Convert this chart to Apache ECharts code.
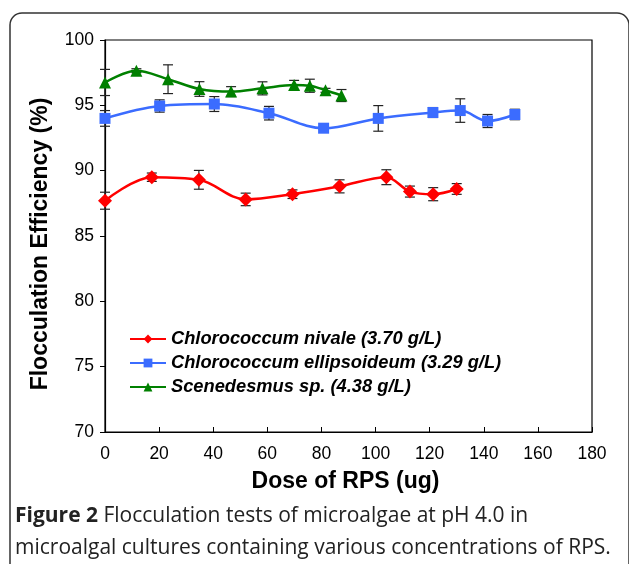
<!DOCTYPE html>
<html><head><meta charset="utf-8">
<script src="https://cdn.jsdelivr.net/npm/echarts@6/dist/echarts.min.js"></script>
<style>html,body{margin:0;padding:0;background:#fff}#c{width:629px;height:564px}</style>
</head><body><div id="c"></div>
<script>
const xTicks = [0, 20, 40, 60, 80, 100, 120, 140, 160, 180];
const yTicks = [70, 75, 80, 85, 90, 95, 100];

const redName = 'Chlorococcum nivale (3.70 g/L)';
const redDose = [0, 17.3, 34.7, 52, 69.3, 86.7, 104, 112.7, 121.3, 130];
const redEff  = [87.7, 89.5, 89.3, 87.8, 88.2, 88.8, 89.5, 88.4, 88.2, 88.6];
const redErr  = [0.65, 0.32, 0.72, 0.48, 0.33, 0.5, 0.57, 0.42, 0.5, 0.41];

const blueName = 'Chlorococcum ellipsoideum (3.29 g/L)';
const blueDose = [0, 20.2, 40.4, 60.6, 80.8, 101, 121.2, 131.3, 141.4, 151.5];
const blueEff  = [94.0, 94.95, 95.1, 94.4, 93.25, 94.0, 94.45, 94.6, 93.8, 94.3];
const blueErr  = [0.6, 0.47, 0.57, 0.52, 0.1, 0.98, 0.38, 0.9, 0.5, 0.4];

const greenName = 'Scenedesmus sp. (4.38 g/L)';
const greenDose = [0, 11.6, 23.3, 34.9, 46.6, 58.2, 69.9, 75.7, 81.5, 87.4];
const greenEff  = [96.75, 97.65, 97.0, 96.25, 96.05, 96.3, 96.55, 96.5, 96.15, 95.75];
const greenErr  = [1.0, 0.15, 1.1, 0.56, 0.38, 0.5, 0.36, 0.5, 0.15, 0.46];

const captionBold = 'Figure 2';
const captionLine1 = ' Flocculation tests of microalgae at pH 4.0 in';
const captionLine2 = 'microalgal cultures containing various concentrations of RPS.';

function pts(xs, ys) { return xs.map((x, i) => [x, ys[i]]); }
function errPts(xs, ys, es) { return xs.map((x, i) => [x, ys[i] - es[i], ys[i] + es[i]]); }

function errSeries(xs, ys, es) {
  return {
    type: 'custom',
    data: errPts(xs, ys, es),
    z: 1,
    silent: true,
    renderItem: function (params, api) {
      const x = api.value(0);
      const lo = api.coord([x, api.value(1)]);
      const hi = api.coord([x, api.value(2)]);
      const w = 5;
      const st = { stroke: '#222', lineWidth: 1.2 };
      return {
        type: 'group',
        children: [
          { type: 'line', shape: { x1: lo[0], y1: lo[1], x2: hi[0], y2: hi[1] }, style: st },
          { type: 'line', shape: { x1: lo[0] - w, y1: lo[1], x2: lo[0] + w, y2: lo[1] }, style: st },
          { type: 'line', shape: { x1: hi[0] - w, y1: hi[1], x2: hi[0] + w, y2: hi[1] }, style: st }
        ]
      };
    }
  };
}

function lineSeries(name, xs, ys, color, symbol, size) {
  return {
    name: name,
    type: 'line',
    data: pts(xs, ys),
    smooth: 0.35,
    symbol: symbol,
    symbolSize: size,
    z: 3,
    lineStyle: { color: color, width: 2.5 },
    itemStyle: { color: color }
  };
}

const chart = echarts.init(document.getElementById('c'), null, { renderer: 'canvas' });
const font = '"Liberation Sans", Arial, sans-serif';
const capFont = '"Open Sans", sans-serif';
chart.setOption({
  animation: false,
  backgroundColor: '#fff',
  textStyle: { fontFamily: font },
  grid: { left: 105, right: 37, top: 40, bottom: 132, show: true, borderColor: '#000', borderWidth: 1.2, backgroundColor: 'transparent' },
  xAxis: {
    type: 'value', min: xTicks[0], max: xTicks[xTicks.length - 1], interval: 20,
    name: 'Dose of RPS (ug)', nameLocation: 'middle', nameGap: 38,
    nameTextStyle: { fontSize: 23, fontWeight: 'bold', color: '#000', fontFamily: font, padding: [0, 6, 0, 0] },
    axisLine: { lineStyle: { color: '#000', width: 1.2 } },
    axisTick: { inside: true, length: 5, lineStyle: { color: '#000' } },
    axisLabel: { fontSize: 17.5, color: '#000', margin: 13, fontFamily: font },
    splitLine: { show: false }
  },
  yAxis: {
    type: 'value', min: yTicks[0], max: yTicks[yTicks.length - 1], interval: 5,
    name: 'Flocculation Efficiency (%)', nameLocation: 'middle', nameGap: 53,
    nameTextStyle: { fontSize: 23, fontWeight: 'bold', color: '#000', fontFamily: font, padding: [0, 16, 0, 0] },
    axisLine: { show: true, lineStyle: { color: '#000', width: 1.2 } },
    axisTick: { show: true, inside: false, length: 5, lineStyle: { color: '#000' } },
    axisLabel: { fontSize: 17.5, color: '#000', margin: 11, fontFamily: font },
    splitLine: { show: false }
  },
  legend: {
    orient: 'vertical', left: 124, top: 325, itemGap: 6, itemWidth: 36, itemHeight: 11,
    data: [redName, blueName, greenName],
    textStyle: { fontSize: 18.3, fontStyle: 'italic', fontWeight: 'bold', color: '#000', fontFamily: font }
  },
  graphic: [
    { type: 'rect', shape: { x: 10, y: 13, width: 619, height: 600, r: 12 },
      style: { fill: 'none', stroke: '#333', lineWidth: 1.5 }, silent: true, z: -1 },
    { type: 'text', left: 15, top: 506,
      style: { text: '{b|' + captionBold + '}{n|' + captionLine1 + '}',
        rich: { b: { fontWeight: 'bold', fontSize: 21, fontFamily: capFont, fill: '#222' },
                n: { fontSize: 21, fontFamily: capFont, fill: '#222' } } } },
    { type: 'text', left: 15, top: 538,
      style: { text: captionLine2, fontSize: 21, fontFamily: capFont, fill: '#222' } }
  ],
  series: [
    errSeries(redDose, redEff, redErr),
    errSeries(blueDose, blueEff, blueErr),
    errSeries(greenDose, greenEff, greenErr),
    lineSeries(redName, redDose, redEff, '#ff0000', 'diamond', 14),
    lineSeries(blueName, blueDose, blueEff, '#3b6cff', 'rect', 11),
    lineSeries(greenName, greenDose, greenEff, '#008000', 'triangle', 12)
  ]
});
</script></body></html>
